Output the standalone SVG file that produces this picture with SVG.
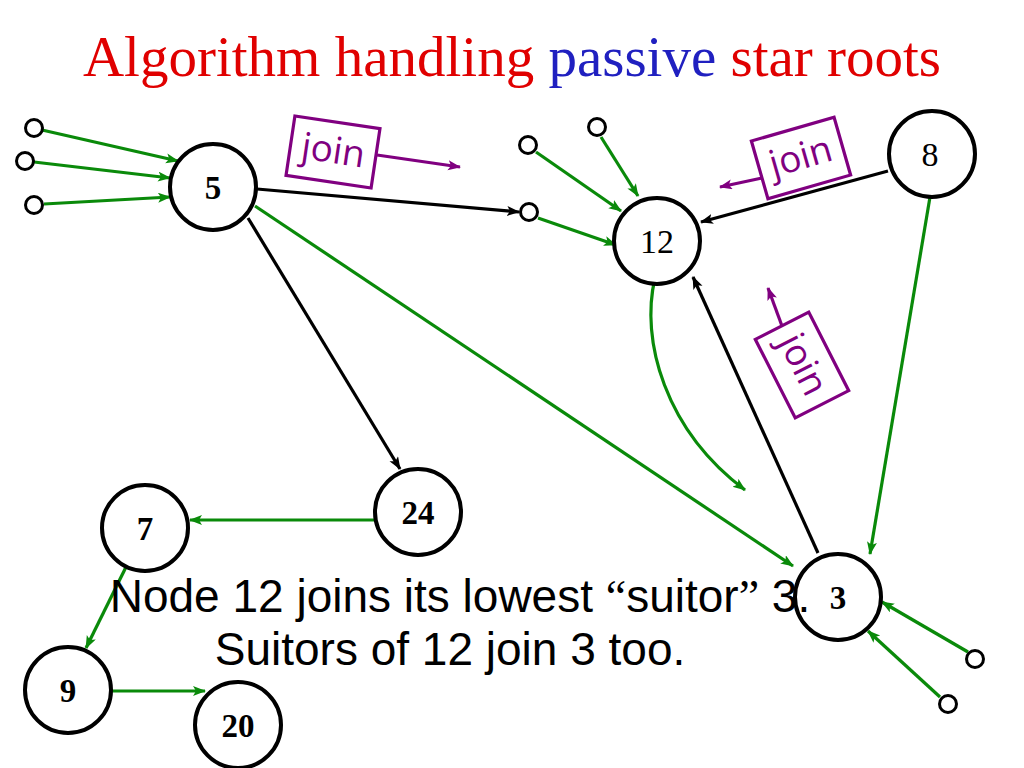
<svg xmlns="http://www.w3.org/2000/svg" width="1024" height="768" viewBox="0 0 1024 768">
<style>
.node{fill:#fff;stroke:#000;stroke-width:4}
.small{fill:#fff;stroke:#000;stroke-width:3}
.lb{font-family:"Liberation Serif",serif;font-size:33px;font-weight:bold;text-anchor:middle;fill:#000}
.ln{font-family:"Liberation Serif",serif;font-size:34px;text-anchor:middle;fill:#000}
.g{stroke:#0A8A0A;stroke-width:3.2;fill:none;marker-end:url(#ag)}
.k{stroke:#000;stroke-width:3.2;fill:none;marker-end:url(#ak)}
.p{stroke:#800080;stroke-width:3.2;fill:none;marker-end:url(#ap)}
.jbox{fill:#fff;stroke:#800080;stroke-width:3.2}
.jt{font-family:"Open Sans","DejaVu Sans",sans-serif;font-size:37px;fill:#800080;text-anchor:middle}
.cap{font-family:"Liberation Sans",sans-serif;font-size:46px;fill:#000;text-anchor:middle}
</style>
<defs>
<marker id="ag" markerUnits="userSpaceOnUse" markerWidth="14" markerHeight="12" refX="12" refY="5" orient="auto"><path d="M0,0 L13,5 L0,10 L3,5 Z" fill="#0A8A0A"/></marker>
<marker id="ak" markerUnits="userSpaceOnUse" markerWidth="14" markerHeight="12" refX="12" refY="5" orient="auto"><path d="M0,0 L13,5 L0,10 L3,5 Z" fill="#000"/></marker>
<marker id="ap" markerUnits="userSpaceOnUse" markerWidth="14" markerHeight="12" refX="12" refY="5" orient="auto"><path d="M0,0 L13,5 L0,10 L3,5 Z" fill="#800080"/></marker>
</defs>
<rect width="1024" height="768" fill="#fff"/>
<text x="512" y="76" font-family="'Liberation Serif',serif" font-size="57" text-anchor="middle" fill="#E00000">Algorithm handling <tspan fill="#2020C0">passive</tspan> star roots</text>

<g id="connectors">
<line class="g" x1="42" y1="130" x2="178" y2="161"/>
<line class="g" x1="34" y1="162" x2="170" y2="178"/>
<line class="g" x1="44" y1="204" x2="170" y2="197"/>
<line class="k" x1="257" y1="189" x2="519" y2="212"/>
<line class="g" x1="536" y1="152" x2="621" y2="211"/>
<line class="g" x1="601" y1="137" x2="638" y2="196"/>
<line class="g" x1="538" y1="218" x2="616" y2="245"/>
<line class="k" x1="888" y1="171" x2="701" y2="222"/>
<line class="g" x1="930" y1="197" x2="870" y2="554"/>
<line class="k" x1="818" y1="553" x2="693" y2="277"/>
<path class="g" d="M655,278 C640,340 665,430 745,490"/>
<line class="g" x1="255" y1="206" x2="793" y2="566"/>
<line class="k" x1="248" y1="218" x2="400" y2="469"/>
<line class="g" x1="375" y1="520" x2="190" y2="520"/>
<line class="g" x1="127" y1="565" x2="86" y2="648"/>
<line class="g" x1="112" y1="691" x2="205" y2="691"/>
<line class="g" x1="968" y1="652" x2="882" y2="602"/>
<line class="g" x1="940" y1="697" x2="868" y2="631"/>
</g>

<g id="small-nodes">
<circle class="small" cx="34" cy="128" r="8.5"/>
<circle class="small" cx="25" cy="161" r="8.5"/>
<circle class="small" cx="34" cy="205" r="8.5"/>
<circle class="small" cx="528" cy="145" r="8.5"/>
<circle class="small" cx="597" cy="127" r="8.5"/>
<circle class="small" cx="529" cy="212" r="8.5"/>
<circle class="small" cx="975" cy="659" r="8.5"/>
<circle class="small" cx="948" cy="704" r="8.5"/>
</g>

<g id="node5"><circle class="node" cx="213" cy="187" r="43"/><text class="lb" x="213" y="199">5</text></g>
<g id="node12"><circle class="node" cx="657" cy="241" r="43"/><text class="ln" x="657" y="253">12</text></g>
<g id="node8"><circle class="node" cx="932" cy="154" r="43"/><text class="ln" x="930" y="166">8</text></g>
<g id="node3"><circle class="node" cx="838" cy="597" r="43"/><text class="lb" x="838" y="609">3</text></g>
<g id="node24"><circle class="node" cx="418" cy="512" r="43"/><text class="lb" x="418" y="524">24</text></g>
<g id="node7"><circle class="node" cx="145" cy="528" r="43"/><text class="lb" x="145" y="540">7</text></g>
<g id="node9"><circle class="node" cx="68" cy="690" r="43"/><text class="lb" x="68" y="702">9</text></g>
<g id="node20"><circle class="node" cx="238" cy="725" r="43"/><text class="lb" x="238" y="737">20</text></g>

<g id="join1">
<line class="p" x1="377" y1="155" x2="460" y2="167"/>
<g transform="translate(333,152) rotate(8.5)"><rect class="jbox" x="-43" y="-30" width="86" height="60"/><text class="jt" x="0" y="11">join</text></g>
</g>
<g id="join2">
<line class="p" x1="762" y1="178" x2="720" y2="187"/>
<g transform="translate(801,158) rotate(-16)"><rect class="jbox" x="-43" y="-30" width="86" height="60"/><text class="jt" x="0" y="11">join</text></g>
</g>
<g id="join3">
<line class="p" x1="782" y1="326" x2="768" y2="288"/>
<g transform="translate(802,365) rotate(63)"><rect class="jbox" x="-44" y="-30" width="88" height="60"/><text class="jt" x="0" y="11">join</text></g>
</g>

<g id="caption">
<text class="cap" x="460" y="612">Node 12 joins its lowest <tspan font-family="'Liberation Serif',serif">“</tspan>suitor<tspan font-family="'Liberation Serif',serif">”</tspan> 3.</text>
<text class="cap" x="450" y="665">Suitors of 12 join 3 too.</text>
</g>
</svg>
